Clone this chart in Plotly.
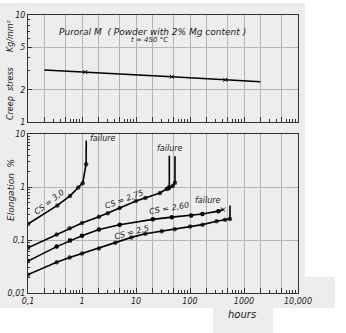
import plotly.graph_objects as go
import numpy as np

# ---- data ----
stress_hours = [0.2, 1.15, 46, 450, 2000]
stress_vals = [3.06, 2.93, 2.65, 2.48, 2.38]
stress_marks = [False, True, True, True, False]

cs30_h = [0.1, 0.35, 0.6, 0.85, 1.03, 1.19, 1.2]
cs30_e = [0.2, 0.45, 0.68, 0.98, 1.18, 2.7, 7.5]

cs275_h = [0.1, 0.34, 0.59, 1.0, 2.06, 3.0, 5.0, 10, 14.9, 27.8, 37, 40, 41.4, 41.4]
cs275_e = [0.071, 0.127, 0.166, 0.209, 0.275, 0.32, 0.40, 0.545, 0.62, 0.77, 0.92, 0.95, 1.0, 3.9]
cs275b_h = [40, 48, 52.7, 52.7]
cs275b_e = [0.95, 1.05, 1.2, 3.8]

cs260_h = [0.1, 0.34, 1.0, 2.06, 5.0, 20.5, 46, 105, 170, 335, 410]
cs260_e = [0.04, 0.075, 0.12, 0.158, 0.194, 0.245, 0.27, 0.29, 0.31, 0.35, 0.375]

cs25_h = [0.1, 0.34, 0.59, 1.0, 2.06, 4.14, 8.2, 14.9, 30, 52, 100, 170, 310, 445, 550, 550]
cs25_e = [0.0222, 0.038, 0.0467, 0.0556, 0.069, 0.0885, 0.112, 0.131, 0.146, 0.16, 0.18,
          0.195, 0.225, 0.24, 0.25, 0.45]

stray_h = [0.6]
stray_e = [0.098]

x_major = [m * 10.0 ** k for k in range(-1, 4) for m in (1, 2, 5)] + [10000]
x_labels = {0.1: "0,1", 1: "1", 10: "10", 100: "100", 1000: "1000", 10000: "10,000"}
x_minor = [m * 10.0 ** k for k in range(-1, 4) for m in (3, 4, 6, 7, 8, 9)]

top_ticks = [1, 2, 5, 10]
bot_ticks = [0.01, 0.1, 1, 10]
bot_labels = ["0,01", "0,1", "1", "10"]

# ---- figure ----
fig = go.Figure()
LINE = dict(color="black", width=1.6)


def sizes(n, last_zero=1):
    s = [4.5] * n
    for i in range(last_zero):
        s[n - 1 - i] = 0
    return s


fig.add_trace(go.Scatter(x=stress_hours, y=stress_vals, mode="lines", line=LINE,
                         xaxis="x2", yaxis="y2", showlegend=False, hoverinfo="skip"))
fig.add_trace(go.Scatter(x=[h for h, m in zip(stress_hours, stress_marks) if m],
                         y=[v for v, m in zip(stress_vals, stress_marks) if m],
                         mode="markers", marker=dict(color="black", size=4, symbol="x-thin",
                                                     line=dict(color="black", width=1)),
                         xaxis="x2", yaxis="y2", showlegend=False))

for h, e in [(cs30_h, cs30_e), (cs275_h, cs275_e), (cs275b_h, cs275b_e), (cs25_h, cs25_e)]:
    fig.add_trace(go.Scatter(x=h, y=e, mode="lines+markers", line=LINE,
                             marker=dict(color="black", size=sizes(len(h)), line_width=0),
                             xaxis="x", yaxis="y", showlegend=False))
fig.add_trace(go.Scatter(x=cs260_h[:-1], y=cs260_e[:-1], mode="lines+markers", line=LINE,
                         marker=dict(color="black", size=4.5, line_width=0),
                         xaxis="x", yaxis="y", showlegend=False))
fig.add_trace(go.Scatter(x=cs260_h[-2:], y=cs260_e[-2:], mode="lines", line=LINE,
                         xaxis="x", yaxis="y", showlegend=False))
fig.add_trace(go.Scatter(x=cs260_h[-1:], y=cs260_e[-1:], mode="markers",
                         marker=dict(color="black", size=4, symbol="x-thin",
                                     line=dict(color="black", width=1)),
                         xaxis="x", yaxis="y", showlegend=False))
fig.add_trace(go.Scatter(x=stray_h, y=stray_e, mode="markers",
                         marker=dict(color="black", size=4, symbol="square", line_width=0),
                         xaxis="x", yaxis="y", showlegend=False))

FONT = dict(family="DejaVu Sans", size=8, color="#222", style="italic")
GRID = "#b4b4b4"
BG = "#ededed"

common_x = dict(type="log", range=[-1, 4], tickmode="array", tickvals=x_major,
                showgrid=True, gridcolor=GRID, gridwidth=1, showline=True,
                linecolor="#333", linewidth=1, mirror=True, ticks="inside",
                ticklen=5, tickcolor="#333", zeroline=False, automargin=False,
                minor=dict(tickvals=x_minor, ticks="inside", ticklen=3, tickcolor="#333",
                           showgrid=False),
                domain=[28 / 346, 298 / 346])

fig.update_layout(
    width=346, height=333, margin=dict(l=0, r=0, t=0, b=0, autoexpand=False),
    paper_bgcolor="white", plot_bgcolor=BG, font=FONT,
    xaxis=dict(common_x, anchor="y",
               ticktext=[x_labels.get(v, "") for v in x_major], tickfont=FONT),
    xaxis2=dict(common_x, anchor="y2", matches="x", showticklabels=False),
    yaxis=dict(type="log", range=[-2, 1], domain=[1 - 293 / 333, 1 - 134 / 333],
               tickmode="array", tickvals=bot_ticks, ticktext=bot_labels,
               showgrid=True, gridcolor=GRID, showline=True, linecolor="#333",
               mirror=True, ticks="inside", ticklen=4, tickcolor="#333",
               tickfont=FONT, zeroline=False, automargin=False,
               minor=dict(tickvals=[m * 10.0 ** k for k in range(-2, 1) for m in range(2, 10)],
                          ticks="inside", ticklen=2, tickcolor="#333", showgrid=False)),
    yaxis2=dict(type="log", range=[0, 1], domain=[1 - 122 / 333, 1 - 15 / 333],
                tickmode="array", tickvals=top_ticks, ticktext=[str(v) for v in top_ticks],
                showgrid=True, gridcolor=GRID, showline=True, linecolor="#333",
                mirror=True, ticks="inside", ticklen=4, tickcolor="#333",
                tickfont=FONT, zeroline=False, automargin=False,
                minor=dict(tickvals=[3, 4, 6, 7, 8, 9], ticks="inside", ticklen=2,
                           tickcolor="#333", showgrid=False)),
)

# paper background (scanned sheet)
fig.add_shape(type="rect", xref="paper", yref="paper", x0=0, x1=305 / 346,
              y0=1 - 308 / 333, y1=1 - 3 / 333, fillcolor=BG, line_width=0, layer="below")
fig.add_shape(type="rect", xref="paper", yref="paper", x0=213 / 346, x1=273 / 346,
              y0=0, y1=1 - 305 / 333, fillcolor=BG, line_width=0, layer="below")
fig.add_shape(type="rect", xref="paper", yref="paper", x0=298 / 346, x1=335 / 346,
              y0=1 - 308 / 333, y1=1 - 277 / 333, fillcolor=BG, line_width=0, layer="below")

ann_font = dict(family="DejaVu Sans", size=8, color="#222", style="italic")
annotations = [
    dict(x=np.log10(20), y=np.log10(7.0), xref="x2", yref="y2",
         text="Puroral M  ( Powder with 2% Mg content )", font=dict(ann_font, size=9)),
    dict(x=np.log10(18), y=np.log10(5.85), xref="x2", yref="y2",
         text="t = 450 °C", font=dict(ann_font, size=7)),
    dict(x=10 / 346, y=1 - 70 / 333, xref="paper", yref="paper",
         text="Creep  stress      Kg/mm²", textangle=-90, font=dict(ann_font, size=8)),
    dict(x=11 / 346, y=1 - 190 / 333, xref="paper", yref="paper",
         text="Elongation  %", textangle=-90, font=dict(ann_font, size=9)),
    dict(x=np.log10(0.245), y=np.log10(0.5), xref="x", yref="y", text="CS = 3,0",
         textangle=-38, font=ann_font),
    dict(x=np.log10(6), y=np.log10(0.58), xref="x", yref="y", text="CS = 2,75",
         textangle=-20, font=ann_font),
    dict(x=np.log10(40), y=np.log10(0.39), xref="x", yref="y", text="CS = 2,60",
         textangle=-10, font=ann_font),
    dict(x=np.log10(8.4), y=np.log10(0.137), xref="x", yref="y", text="CS = 2,5",
         textangle=-15, font=ann_font),
    dict(x=np.log10(1.3), y=np.log10(8.4), xref="x", yref="y", text="failure",
         xanchor="left", font=ann_font),
    dict(x=np.log10(43), y=np.log10(5.3), xref="x", yref="y", text="failure",
         font=ann_font),
    dict(x=np.log10(215), y=np.log10(0.55), xref="x", yref="y", text="failure",
         font=ann_font),
    dict(x=242 / 346, y=1 - 314 / 333, xref="paper", yref="paper", text="hours",
         font=dict(ann_font, size=10)),
]
for a in annotations:
    a.setdefault("showarrow", False)
    a.setdefault("xanchor", "center")
    a.setdefault("yanchor", "middle")
    fig.add_annotation(**a)

fig.write_html("out.html")
